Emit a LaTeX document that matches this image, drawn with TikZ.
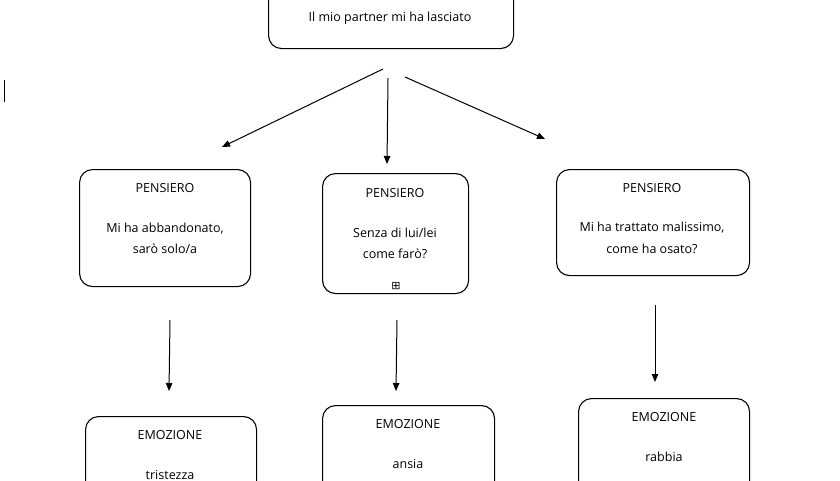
\documentclass[tikz,border=0pt]{standalone}
\usepackage{fontspec}
\setmainfont{Open Sans}
\newfontfamily\symfont{DejaVu Sans}
\usetikzlibrary{arrows.meta}
\begin{document}
\begin{tikzpicture}[x=1pt,y=-1pt,
  box/.style={draw,line width=1.1pt,rounded corners=13pt,anchor=north west,inner sep=0pt},
  txt/.style={font=\fontsize{12.5}{14}\selectfont,inner sep=0pt},
  arr/.style={line width=1pt,-{Triangle[length=8pt,width=6.5pt]}}]
\useasboundingbox[fill=white] (0,0) rectangle (840,480);
\draw[line width=0.8pt] (4,80) -- (4,102);
\node[box,minimum width=245pt,minimum height=62pt] (top) at (268,-14) {};
\node[txt] (t0) at (390,18) {Il mio partner mi ha lasciato};
\node[box,minimum width=171pt,minimum height=117pt] (p1) at (79,169) {};
\node[txt] (p1a) at (165,188) {PENSIERO};
\node[txt] (p1b) at (165,229) {Mi ha abbandonato,};
\node[txt] (p1c) at (165,249) {sarò solo/a};
\node[box,minimum width=146pt,minimum height=120pt] (p2) at (322,173) {};
\node[txt] (p2a) at (395,193) {PENSIERO};
\node[txt] (p2b) at (395,233) {Senza di lui/lei};
\node[txt] (p2c) at (395,254) {come farò?};
\node[txt,font=\symfont\fontsize{11}{12}\selectfont] (p2d) at (396,286) {⊞};
\node[box,minimum width=193pt,minimum height=106pt] (p3) at (556,169) {};
\node[txt] (p3a) at (652,188) {PENSIERO};
\node[txt] (p3b) at (652,228) {Mi ha trattato malissimo,};
\node[txt] (p3c) at (652,249) {come ha osato?};
\node[box,minimum width=171pt,minimum height=90pt] (e1) at (85,416) {};
\node[txt] (e1a) at (170,435) {EMOZIONE};
\node[txt] (e1b) at (170,475) {tristezza};
\node[box,minimum width=172pt,minimum height=100pt] (e2) at (322,405) {};
\node[txt] (e2a) at (408,424) {EMOZIONE};
\node[txt] (e2b) at (408,464) {ansia};
\node[box,minimum width=171pt,minimum height=110pt] (e3) at (578,398) {};
\node[txt] (e3a) at (664,417) {EMOZIONE};
\node[txt] (e3b) at (664,457) {rabbia};
\coordinate (a1s) at (383,69); \coordinate (a1e) at (222,147);
\coordinate (a2s) at (388,78); \coordinate (a2e) at (387,164);
\coordinate (a3s) at (405,77); \coordinate (a3e) at (545,139);
\coordinate (b1s) at (170,320); \coordinate (b1e) at (169,391);
\coordinate (b2s) at (397,320); \coordinate (b2e) at (396,391);
\coordinate (b3s) at (655,305); \coordinate (b3e) at (655,382);
\foreach \a in {a1,a2,a3,b1,b2,b3} \draw[arr] (\a s) -- (\a e);
\end{tikzpicture}
\end{document}
